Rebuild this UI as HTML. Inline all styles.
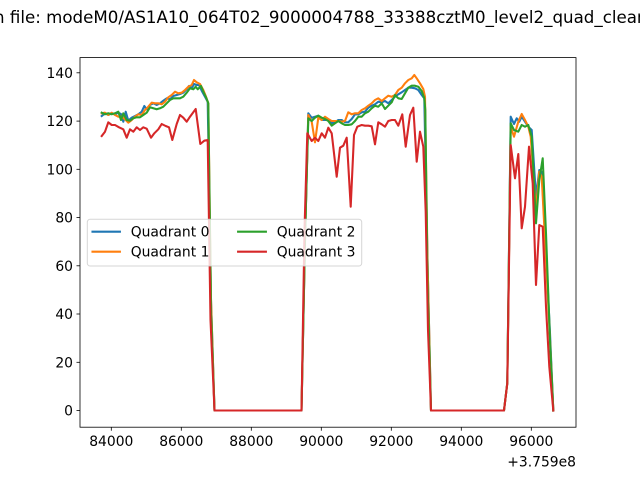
<!DOCTYPE html>
<html><head><meta charset="utf-8"><style>
html,body{margin:0;padding:0;background:#fff;}
svg{display:block;}
text{font-family:"DejaVu Sans","Liberation Sans",sans-serif;fill:#000;}
</style></head><body>
<svg width="640" height="480" viewBox="0 0 640 480" xmlns="http://www.w3.org/2000/svg">
<rect width="640" height="480" fill="#fff"/>
<text x="-6" y="23" font-size="16.67">n file: modeM0/AS1A10_064T02_9000004788_33388cztM0_level2_quad_clear</text>
<g fill="none" stroke-width="2.08" stroke-linejoin="round" stroke-linecap="square">
<polyline stroke="#1f77b4" points="101.7,116 105,113.3 108.3,115 111.7,113.3 115,114.3 118.3,112.7 121,114 123.3,121.7 125.7,111.7 128.3,120.7 131.7,117.7 135,116 138.3,114.3 141.7,111.7 144.3,106 146.7,109.3 150,105 153.3,103.3 156.7,105 160,103.3 163.3,100.7 166.7,98.3 170,99.3 173.3,96 176.7,95 180,94 183.3,92.7 186.7,89.3 189,86 191.7,88.3 194,84 196.7,85 199,85 201.7,90.7 205,96.7 207.7,101.7 211,300 214.5,410.5 301.5,410.5 305,240 308.3,113.3 311.7,117.7 315,116.7 318.3,115.7 321.7,120 325,120 328.3,120 331.7,123.3 335,122.3 338.3,120 341.7,120 345,122.3 348.3,122.3 351.7,119 355,114.3 358.3,114.3 361.7,112.3 365,111.7 368.3,107.7 371.7,105.7 375,104.3 378.3,101.7 381.7,102.3 385,101 388.3,103.3 391.7,100 395,96.7 398.3,94.3 401.7,92.3 405,90 408.3,87.7 411.7,87.7 415,88.3 418.3,90 421.7,95 424.3,98.3 427.5,260 431,410.5 504,410.5 507.3,383 510.7,116.7 514,124 516.7,118.3 519.3,121.7 521.7,116.7 525,121.7 528.3,126.7 531.7,130 536,196.7 539.3,170 541.7,171.7 545,233.3 550,333.3 553.3,410.5"/>
<polyline stroke="#ff7f0e" points="101.7,113.3 105,112.7 108.3,115 111.7,112.7 115,115 118.3,116.7 121.7,116.7 125,119.3 128.3,122.7 131.7,120 135,116.7 138.3,114.3 141.7,115 145,110 148.3,106.7 151.7,102.7 155,103.3 158.3,103.3 161.7,104.3 165,101.7 168.3,97.3 171.7,95 175,91.7 178.3,93.3 181.7,92.7 185,90 188.3,86.7 191.7,85 194,80 196.7,82.3 200,84 203.3,90 206,96.7 208.3,103.3 211,300 214.5,410.5 301.5,410.5 305,240 308.3,115 311.7,121.7 315,142.3 318.3,117.7 321.7,120 325,116.7 328.3,119 331.7,121 335,121 338.3,121 341.7,121.7 345,121 348.3,112.3 351.7,114.3 355,113.3 358.3,113.3 361.7,110 365,108.3 368.3,105.7 371.7,103.3 375,100 378.3,98.3 381.7,101 385,98.3 388.3,95.7 391.7,96.7 395,95 398.3,90 401.7,87.7 405,83.3 408.3,80 411.7,78.3 414.3,75 416.7,78.3 420,83.3 423.3,89 425,96.7 427.5,260 431,410.5 504,410.5 507.3,383 510.7,126.7 514,136.7 518.3,121.7 521.7,114 525,120 528.3,126.7 530.7,136.7 536,210 539.3,171.7 541.7,176.7 545,240 550,340 553.3,410.5"/>
<polyline stroke="#2ca02c" points="101.7,112.7 105,114.3 108.3,113.3 111.7,114.3 115,113.3 118.3,111.7 121,120 123.3,113.3 126.7,120 130,120.7 133.3,118.3 136.7,117.3 140,117.3 143.3,115 146.7,112.7 150,107.3 153.3,108.3 156.7,109.3 160,108.3 163.3,106.7 166.7,103.3 170,100 173.3,98.3 176.7,98.3 180,98.3 183.3,96.7 186.7,92.7 190,88.3 193.3,89.3 195.7,86.7 197.7,89.3 201,86 203.3,91.7 206,97.3 208.3,103.3 211,310 214.5,410.5 301.5,410.5 305,240 308.3,118.3 311.7,121 315,117.7 318.3,115.7 321.7,117.7 325,119 328.3,121 331.7,125.7 335,123.3 338.3,121 341.7,123.3 345,125 348.3,125 351.7,124.3 355,121 358.3,116.7 361.7,116.7 365,113.3 368.3,111.7 371.7,108.3 375,105.7 378.3,106.7 381.7,103.3 385,109 388.3,105.7 391.7,102.3 395,95 398.3,98.3 401.7,99 405,93.3 408.3,87.7 411.7,85.7 415,85.7 418.3,86.7 421.7,91 424.3,98.3 425.3,110 427.5,280 431,410.5 504,410.5 507.3,383 510.7,123.3 514,130 518.3,131.7 521.7,125 525,126.7 528.3,125 531.7,136.7 536,223.3 539.3,180 542.7,158.3 546,233.3 550,340 553.3,410.5"/>
<polyline stroke="#d62728" points="101.7,136 105,131.7 108.3,122.3 111.7,125 115,125 119,127.3 123.3,129.3 126.7,137.7 130,129.3 133.3,131.7 136.7,127.3 140,130 143.3,127.3 146.7,128.7 151,137.7 154.3,133.3 158.3,129.3 161.7,124 165.7,126 169,127.3 172.3,140 176.7,124 180,115 183.3,117.7 186.7,121.7 190,116.7 193.3,112.3 195.7,109 200.3,144 204.3,140.7 207.7,140 210.5,320 214.5,410.5 301.5,410.5 304.5,230 307.3,133.3 311.7,141 315,137.7 318.3,141 321.7,133.3 325,137.7 328.3,127.7 331.7,133.3 336.7,176.7 340,147.7 343.3,145.7 346.7,137.7 350.7,206.7 354,135 357.3,126.7 361.7,125 365,125.7 368.3,125.7 371.7,126.3 375,144.3 378.3,122.3 381.7,124.3 385,126.7 388.3,121 391.7,120 395,120 398.3,125.7 402.3,114.3 405.7,146.7 410,115 413.3,107.7 416.7,161.7 420,131.7 423.3,146.7 425.7,211.7 428,330 431,410.5 504,410.5 507.3,383.3 510.7,145 515,178.3 518.3,154 521.7,228.3 525,206.7 529,146.7 532.7,183.3 536,285 539.3,225 542.7,226.7 546,306.7 549.3,366.7 553.3,410.5"/>
</g>
<!-- axes frame -->
<rect x="80" y="57.6" width="496" height="369.6" fill="none" stroke="#000" stroke-width="0.8"/>
<!-- x ticks -->
<g stroke="#000" stroke-width="0.8">
<line x1="111.3" y1="427.2" x2="111.3" y2="430.7"/>
<line x1="181.3" y1="427.2" x2="181.3" y2="430.7"/>
<line x1="251.3" y1="427.2" x2="251.3" y2="430.7"/>
<line x1="321.3" y1="427.2" x2="321.3" y2="430.7"/>
<line x1="391.3" y1="427.2" x2="391.3" y2="430.7"/>
<line x1="461.3" y1="427.2" x2="461.3" y2="430.7"/>
<line x1="531.3" y1="427.2" x2="531.3" y2="430.7"/>
<line x1="76.5" y1="410.5" x2="80" y2="410.5"/>
<line x1="76.5" y1="362.3" x2="80" y2="362.3"/>
<line x1="76.5" y1="314.0" x2="80" y2="314.0"/>
<line x1="76.5" y1="265.8" x2="80" y2="265.8"/>
<line x1="76.5" y1="217.5" x2="80" y2="217.5"/>
<line x1="76.5" y1="169.3" x2="80" y2="169.3"/>
<line x1="76.5" y1="121.1" x2="80" y2="121.1"/>
<line x1="76.5" y1="72.8" x2="80" y2="72.8"/>
</g>
<g font-size="13.89" text-anchor="middle">
<text x="111.3" y="446">84000</text>
<text x="181.3" y="446">86000</text>
<text x="251.3" y="446">88000</text>
<text x="321.3" y="446">90000</text>
<text x="391.3" y="446">92000</text>
<text x="461.3" y="446">94000</text>
<text x="531.3" y="446">96000</text>
</g>
<text x="576" y="466.5" font-size="13.89" text-anchor="end">+3.759e8</text>
<g font-size="13.89" text-anchor="end">
<text x="73" y="415.5">0</text>
<text x="73" y="367.3">20</text>
<text x="73" y="319.0">40</text>
<text x="73" y="270.8">60</text>
<text x="73" y="222.5">80</text>
<text x="73" y="174.3">100</text>
<text x="73" y="126.1">120</text>
<text x="73" y="77.8">140</text>
</g>
<!-- legend -->
<rect x="87.3" y="219.3" width="274.4" height="46.7" rx="2.8" ry="2.8" fill="#fff" fill-opacity="0.8" stroke="#cccccc" stroke-opacity="0.8" stroke-width="1"/>
<g stroke-width="2.08" stroke-linecap="square">
<line x1="92.5" y1="231.7" x2="119.9" y2="231.7" stroke="#1f77b4"/>
<line x1="92.5" y1="251.7" x2="119.9" y2="251.7" stroke="#ff7f0e"/>
<line x1="238.1" y1="231.7" x2="265.9" y2="231.7" stroke="#2ca02c"/>
<line x1="238.1" y1="251.7" x2="265.9" y2="251.7" stroke="#d62728"/>
</g>
<g font-size="13.89">
<text x="130.7" y="236.6">Quadrant 0</text>
<text x="130.7" y="256.6">Quadrant 1</text>
<text x="276.7" y="236.6">Quadrant 2</text>
<text x="276.7" y="256.6">Quadrant 3</text>
</g>
</svg>
</body></html>
